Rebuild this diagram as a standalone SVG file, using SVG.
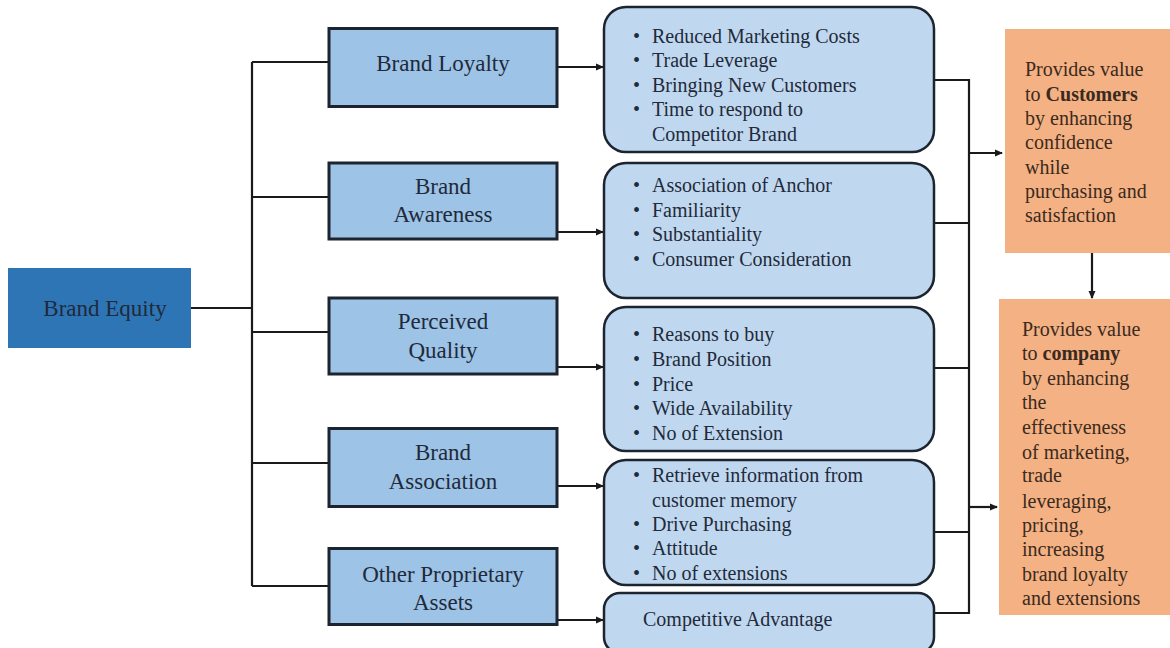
<svg xmlns="http://www.w3.org/2000/svg" width="1170" height="648" viewBox="0 0 1170 648">
<defs>
<marker id="arr" markerWidth="8" markerHeight="8" refX="7" refY="4" orient="auto" markerUnits="userSpaceOnUse">
<path d="M0,0.5 L8,4 L0,7.5 Z" fill="#1a1a1a"/>
</marker>
<style>
.root{fill:#2e75b6;stroke:none}
.cat{fill:#9dc3e6;stroke:#1c2430;stroke-width:3}
.bul{fill:#c0d8ef;stroke:#1c2430;stroke-width:2.5}
.org{fill:#f4b183;stroke:none}
.ln{fill:none;stroke:#1a1a1a;stroke-width:2.2}
.t{font-family:"Liberation Serif","Times New Roman",serif;fill:#1f2a3a}
.tc{font-size:23px;text-anchor:middle}
.tb{font-size:20px}
.to{font-size:20px;fill:#3a2a20}
.b{font-weight:bold}
</style>
</defs>
<rect width="1170" height="648" fill="#ffffff"/>

<g id="connectors">
<path class="ln" d="M191,308 H252"/>
<path class="ln" d="M252,62 V586"/>
<path class="ln" d="M252,62 H329"/>
<path class="ln" d="M252,197 H329"/>
<path class="ln" d="M252,332 H329"/>
<path class="ln" d="M252,463 H329"/>
<path class="ln" d="M252,586 H329"/>
<path class="ln" d="M557,67 H603" marker-end="url(#arr)"/>
<path class="ln" d="M557,232 H603" marker-end="url(#arr)"/>
<path class="ln" d="M557,367 H603" marker-end="url(#arr)"/>
<path class="ln" d="M557,486 H603" marker-end="url(#arr)"/>
<path class="ln" d="M557,620 H603" marker-end="url(#arr)"/>
<path class="ln" d="M934,80 H969 V613 H934"/>
<path class="ln" d="M934,223 H969"/>
<path class="ln" d="M934,368 H969"/>
<path class="ln" d="M934,532 H969"/>
<path class="ln" d="M969,153 H1002" marker-end="url(#arr)"/>
<path class="ln" d="M969,507 H997" marker-end="url(#arr)"/>
<path class="ln" d="M1092,253 V298" marker-end="url(#arr)"/>
</g>

<g id="brand-equity">
<rect class="root" x="8" y="268" width="183" height="80"/>
<text class="t tc" x="105" y="316" fill="#1f3864">Brand Equity</text>
</g>

<g id="brand-loyalty">
<rect class="cat" x="329" y="28.5" width="228" height="78"/>
<text class="t tc" x="443" y="71">Brand Loyalty</text>
</g>
<g id="brand-awareness">
<rect class="cat" x="329" y="163" width="228" height="76"/>
<text class="t tc" x="443" y="194">Brand</text>
<text class="t tc" x="443" y="222">Awareness</text>
</g>
<g id="perceived-quality">
<rect class="cat" x="329" y="298" width="228" height="76"/>
<text class="t tc" x="443" y="329">Perceived</text>
<text class="t tc" x="443" y="358">Quality</text>
</g>
<g id="brand-association">
<rect class="cat" x="329" y="428.5" width="228" height="78"/>
<text class="t tc" x="443" y="460">Brand</text>
<text class="t tc" x="443" y="489">Association</text>
</g>
<g id="other-assets">
<rect class="cat" x="329" y="548.5" width="228" height="76"/>
<text class="t tc" x="443" y="582">Other Proprietary</text>
<text class="t tc" x="443" y="610">Assets</text>
</g>

<g id="loyalty-benefits">
<rect class="bul" x="604" y="7" width="330" height="145" rx="22"/>
<text class="t tb"><tspan x="633" y="43">•</tspan><tspan x="652" y="43">Reduced Marketing Costs</tspan><tspan x="633" y="67">•</tspan><tspan x="652" y="67">Trade Leverage</tspan><tspan x="633" y="92">•</tspan><tspan x="652" y="92">Bringing New Customers</tspan><tspan x="633" y="116">•</tspan><tspan x="652" y="116">Time to respond to</tspan><tspan x="652" y="141">Competitor Brand</tspan></text>
</g>
<g id="awareness-benefits">
<rect class="bul" x="604" y="163" width="330" height="135" rx="22"/>
<text class="t tb"><tspan x="633" y="192">•</tspan><tspan x="652" y="192">Association of Anchor</tspan><tspan x="633" y="217">•</tspan><tspan x="652" y="217">Familiarity</tspan><tspan x="633" y="241">•</tspan><tspan x="652" y="241">Substantiality</tspan><tspan x="633" y="266">•</tspan><tspan x="652" y="266">Consumer Consideration</tspan></text>
</g>
<g id="quality-benefits">
<rect class="bul" x="604" y="307" width="330" height="144" rx="22"/>
<text class="t tb"><tspan x="633" y="341">•</tspan><tspan x="652" y="341">Reasons to buy</tspan><tspan x="633" y="366">•</tspan><tspan x="652" y="366">Brand Position</tspan><tspan x="633" y="391">•</tspan><tspan x="652" y="391">Price</tspan><tspan x="633" y="415">•</tspan><tspan x="652" y="415">Wide Availability</tspan><tspan x="633" y="440">•</tspan><tspan x="652" y="440">No of Extension</tspan></text>
</g>
<g id="association-benefits">
<rect class="bul" x="604" y="460" width="330" height="125" rx="22"/>
<text class="t tb"><tspan x="633" y="482">•</tspan><tspan x="652" y="482">Retrieve information from</tspan><tspan x="652" y="507">customer memory</tspan><tspan x="633" y="531">•</tspan><tspan x="652" y="531">Drive Purchasing</tspan><tspan x="633" y="555">•</tspan><tspan x="652" y="555">Attitude</tspan><tspan x="633" y="580">•</tspan><tspan x="652" y="580">No of extensions</tspan></text>
</g>
<g id="assets-benefits">
<rect class="bul" x="604" y="593" width="330" height="60" rx="16"/>
<text class="t tb" x="643" y="626">Competitive Advantage</text>
</g>

<g id="customer-value">
<rect class="org" x="1005" y="29" width="170" height="224"/>
<text class="t to"><tspan x="1025" y="76">Provides value</tspan><tspan x="1025" y="101">to <tspan class="b">Customers</tspan></tspan><tspan x="1025" y="125">by enhancing</tspan><tspan x="1025" y="149">confidence</tspan><tspan x="1025" y="174">while</tspan><tspan x="1025" y="198">purchasing and</tspan><tspan x="1025" y="222">satisfaction</tspan></text>
</g>
<g id="company-value">
<rect class="org" x="999" y="299" width="176" height="316"/>
<text class="t to"><tspan x="1022" y="336">Provides value</tspan><tspan x="1022" y="360">to <tspan class="b">company</tspan></tspan><tspan x="1022" y="385">by enhancing</tspan><tspan x="1022" y="409">the</tspan><tspan x="1022" y="434">effectiveness</tspan><tspan x="1022" y="459">of marketing,</tspan><tspan x="1022" y="482">trade</tspan><tspan x="1022" y="508">leveraging,</tspan><tspan x="1022" y="532">pricing,</tspan><tspan x="1022" y="556">increasing</tspan><tspan x="1022" y="581">brand loyalty</tspan><tspan x="1022" y="605">and extensions</tspan></text>
</g>
</svg>
